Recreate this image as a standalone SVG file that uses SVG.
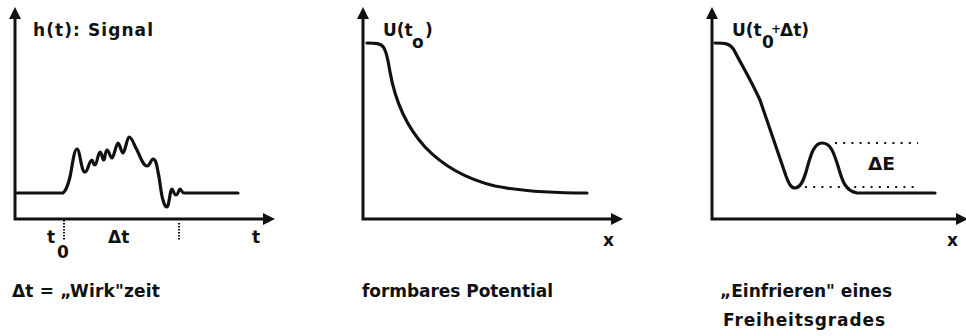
<svg xmlns="http://www.w3.org/2000/svg" width="966" height="336" viewBox="0 0 966 336">
<style>
text{font-family:"DejaVu Sans","Liberation Sans",sans-serif;font-weight:bold;font-size:17px;fill:#111}
.axis{fill:none;stroke:#111;stroke-width:3;marker-start:url(#arr);marker-end:url(#arr)}
.curve{fill:none;stroke:#111;stroke-width:3.2;stroke-linejoin:round;stroke-linecap:round}
.dotv{fill:none;stroke:#111;stroke-width:2;stroke-dasharray:1.5 1.5}
.doth{fill:none;stroke:#111;stroke-width:2.2;stroke-dasharray:2 6.2}
</style>
<defs>
<marker id="arr" markerUnits="userSpaceOnUse" markerWidth="14" markerHeight="14" refX="0" refY="7" orient="auto-start-reverse">
<path d="M0,1 L12,7 L0,13 z" fill="#111"/>
</marker>
</defs>
<rect width="966" height="336" fill="#fff"/>

<g id="panel-signal">
<path class="axis" d="M15,19 V219 H263"/>
<path class="curve" d="M17,193 H63 C66,191 68,185 70,177 C72,168 74,149 77,149 C80,149 81,172 85,172 C88,172 89,160 92,160 C93,160 93,165 95,165 C97,165 98,152 100,152 C102,152 102,160 104,160 C105,160 105,150 107,150 C109,150 110,158 112,158 C114,158 116,143 118,143 C120,143 121,153 123,153 C125,153 127,137 129,137 C132,137 134,145 137,150 C140,156 143,166 147,166 C150,166 151,159 153,159 C156,159 157,166 158,172 C160,180 161,195 163,200 C164,204 165,207 167,207 C169,207 170,189 172,189 C173,189 174,195 176,195 C178,195 179,189 180,189 C181,189 182,193 184,193 H238"/>
<path class="dotv" d="M64,220 V241 M179,223 V241"/>
<text x="33" y="36" textLength="120" lengthAdjust="spacing">h(t): Signal</text>
<text x="47" y="243">t</text>
<text x="57" y="258" font-size="16">0</text>
<text x="108" y="243">Δt</text>
<text x="252" y="243">t</text>
<text x="12" y="297" textLength="148" lengthAdjust="spacing">Δt = „Wirk"zeit</text>
</g>

<g id="panel-potential">
<path class="axis" d="M363,19 V219 H611"/>
<path class="curve" d="M367,43 C375,43 381,43 384,48 C387,53 388,60 390,72 C395,100 405,125 425,147 C445,168 470,180 495,186 C520,191 545,193 587,193"/>
<text y="36"><tspan x="383">U(t</tspan><tspan x="412" dy="12">o</tspan><tspan x="425" dy="-12">)</tspan></text>
<text x="603" y="246">x</text>
<text x="362" y="297" textLength="191" lengthAdjust="spacing">formbares Potential</text>
</g>

<g id="panel-freeze">
<path class="axis" d="M712,19 V219 H956"/>
<path class="curve" d="M715,43 C724,43 730,43 734,50 C740,62 750,78 760,100 L786,176 C789,184 791,188 795,188 C800,188 803,182 806,172 C810,158 813,143 822,143 C830,143 833,150 838,166 C842,180 845,191 857,193 H935"/>
<path class="doth" d="M835,143 H918 M805,187 H918"/>
<text y="36"><tspan x="732">U(t</tspan><tspan x="762" dy="12">0</tspan><tspan x="771" dy="-15" font-size="12">+</tspan><tspan x="780" dy="3">Δt)</tspan></text>
<text x="868" y="170" textLength="27" lengthAdjust="spacingAndGlyphs">ΔE</text>
<text x="947" y="246">x</text>
<text x="720" y="297" textLength="172" lengthAdjust="spacing">„Einfrieren" eines</text>
<text x="723" y="326" textLength="162" lengthAdjust="spacing">Freiheitsgrades</text>
</g>
</svg>
